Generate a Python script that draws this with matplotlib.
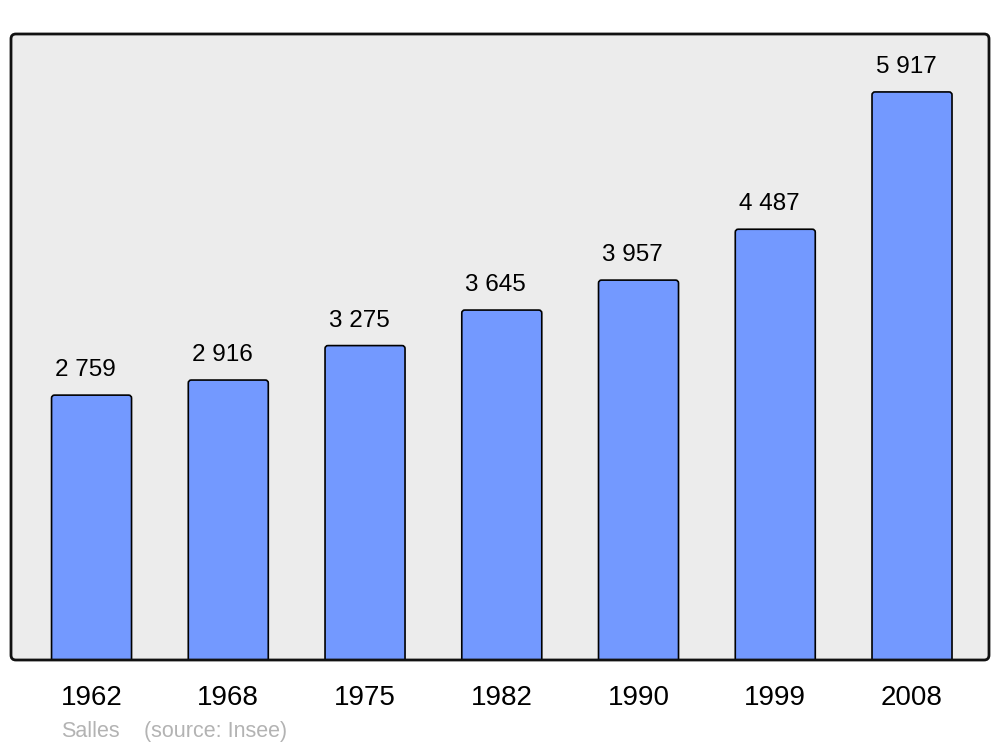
import matplotlib
matplotlib.use("Agg")
import matplotlib.pyplot as plt
from matplotlib.patches import FancyBboxPatch

years = ["1962", "1968", "1975", "1982", "1990", "1999", "2008"]
population = [2759, 2916, 3275, 3645, 3957, 4487, 5917]
commune = "Salles"
source = "(source: Insee)"

plt.rcParams['font.family'] = ['Liberation Sans', 'DejaVu Sans']

W, H = 1000, 747
fig = plt.figure(figsize=(W / 100, H / 100), dpi=100)
fig.patch.set_facecolor("white")
ax = fig.add_axes([11 / W, 1 - 660 / H, 978 / W, 626 / H])
ax.set_xlim(-0.589, len(years) - 1 + 0.563)
ymax = max(population) * 1.102
ax.set_ylim(0, ymax)
ax.patch.set_visible(False)
for s in ax.spines.values():
    s.set_visible(False)
ax.set_xticks([])
ax.set_yticks([])

# background and frame with rounded corners
asp = 978 / 626
bg = FancyBboxPatch((0, 0), 1, 1, boxstyle="round,pad=0,rounding_size=0.005",
                    mutation_aspect=asp, transform=ax.transAxes,
                    facecolor="#ececec", edgecolor="none", zorder=0, clip_on=False)
ax.add_patch(bg)
frame = FancyBboxPatch((0, 0), 1, 1, boxstyle="round,pad=0,rounding_size=0.005",
                       mutation_aspect=asp, transform=ax.transAxes,
                       facecolor="none", edgecolor="#111111", linewidth=2.0,
                       zorder=10, clip_on=False)
ax.add_patch(frame)

# bars
px_per_x = 978 / (ax.get_xlim()[1] - ax.get_xlim()[0])
px_per_y = 626 / ymax
bw = 0.585
r = 3 / px_per_x
for i, (yr, v) in enumerate(zip(years, population)):
    bottom = -40
    p = FancyBboxPatch((i - bw / 2, bottom), bw, v - bottom,
                       boxstyle=f"round,pad=0,rounding_size={r}",
                       mutation_aspect=px_per_x / px_per_y,
                       facecolor="#7399ff", edgecolor="#000000", linewidth=1.2,
                       zorder=3)
    ax.add_patch(p)
    label = f"{v:,}".replace(",", " ")
    ax.annotate(label, (i, v), xytext=(-6 * 72 / 100, 19 * 72 / 100),
                textcoords="offset points",
                ha="center", va="baseline", fontsize=17.5, color="black", zorder=5)
    ax.annotate(yr, (i, 0), xytext=(0, -45 * 72 / 100), textcoords="offset points",
                ha="center", va="baseline", fontsize=20, color="black",
                annotation_clip=False)

fig.text(61 / W, 1 - 737 / H, commune, fontsize=15.5, color="#b3b3b3",
         ha="left", va="baseline")
fig.text(144 / W, 1 - 737 / H, source, fontsize=15.5, color="#b3b3b3",
         ha="left", va="baseline")

fig.savefig("out.png", dpi=100, facecolor="white")
